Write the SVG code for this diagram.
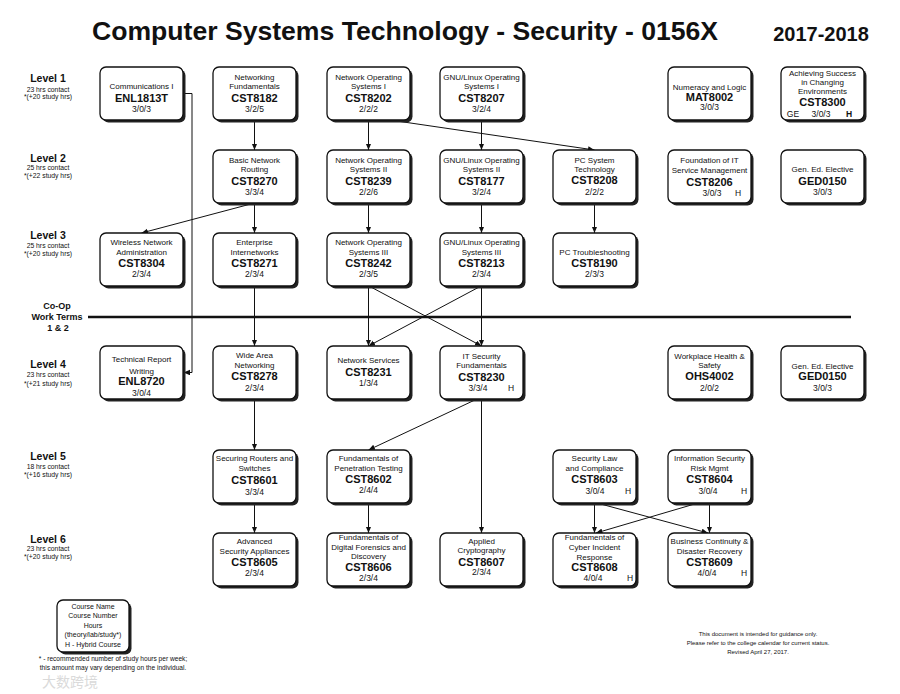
<svg xmlns="http://www.w3.org/2000/svg" width="900" height="694" viewBox="0 0 900 694">
<defs>
<marker id="ah" markerWidth="7" markerHeight="6" refX="6.5" refY="2.75" orient="auto" markerUnits="userSpaceOnUse"><path d="M0,0 L6.5,2.75 L0,5.5 z" fill="#111"/></marker>
</defs>
<style>
text{font-family:"Liberation Sans",Arial,sans-serif;fill:#111;text-anchor:middle}
.sh{fill:#222}
.bx{fill:#fff;stroke:#111;stroke-width:1.3}
.n{font-size:8px}
.c{font-size:11px;font-weight:bold}
.h{font-size:8.5px}
.lv{font-size:10.5px;font-weight:bold}
.ls{font-size:6.8px}
.co{font-size:9px;font-weight:bold}
.ln{fill:none;stroke:#111;stroke-width:1}
.ar{marker-end:url(#ah)}
</style>
<rect width="900" height="694" fill="#fff"/>
<text x="405" y="40" style="font-size:26.6px;font-weight:bold">Computer Systems Technology - Security - 0156X</text>
<text x="821" y="41" style="font-size:20px;font-weight:bold">2017-2018</text>

<g id="levels">
<text class="lv" x="48" y="82">Level 1</text><text class="ls" x="48" y="91.5">23 hrs contact</text><text class="ls" x="48" y="99">*(+20 study hrs)</text>
<text class="lv" x="48" y="162">Level 2</text><text class="ls" x="48" y="169.5">25 hrs contact</text><text class="ls" x="48" y="177.5">*(+22 study hrs)</text>
<text class="lv" x="48" y="239">Level 3</text><text class="ls" x="48" y="247.5">25 hrs contact</text><text class="ls" x="48" y="255.5">*(+20 study hrs)</text>
<text class="lv" x="48" y="368">Level 4</text><text class="ls" x="48" y="376.5">23 hrs contact</text><text class="ls" x="48" y="385.5">*(+21 study hrs)</text>
<text class="lv" x="48" y="460">Level 5</text><text class="ls" x="48" y="468.5">18 hrs contact</text><text class="ls" x="48" y="476.5">*(+16 study hrs)</text>
<text class="lv" x="48" y="543">Level 6</text><text class="ls" x="48" y="550.5">23 hrs contact</text><text class="ls" x="48" y="558.5">*(+20 study hrs)</text>
<text class="co" x="57" y="308.5">Co-Op</text><text class="co" x="57" y="319.5">Work Terms</text><text class="co" x="58" y="330.5">1 &amp; 2</text>
</g>

<g id="connectors">
<line x1="88" y1="317" x2="851" y2="317" stroke="#111" stroke-width="2.5"/>
<path class="ln ar" d="M183,93.5 H192 V372.5 H183.5"/>
<line class="ln ar" x1="254.5" y1="120" x2="254.5" y2="150"/>
<line class="ln ar" x1="254.5" y1="203" x2="141.5" y2="233"/>
<line class="ln ar" x1="254.5" y1="203" x2="254.5" y2="233"/>
<line class="ln ar" x1="254.5" y1="286" x2="254.5" y2="346"/>
<line class="ln ar" x1="254.5" y1="399" x2="254.5" y2="450"/>
<line class="ln ar" x1="254.5" y1="503" x2="254.5" y2="533"/>
<line class="ln ar" x1="368.5" y1="120" x2="368.5" y2="150"/>
<line class="ln ar" x1="390" y1="120" x2="594.5" y2="150"/>
<line class="ln ar" x1="481.5" y1="120" x2="481.5" y2="150"/>
<line class="ln ar" x1="368.5" y1="203" x2="368.5" y2="233"/>
<line class="ln ar" x1="481.5" y1="203" x2="481.5" y2="233"/>
<line class="ln ar" x1="594.5" y1="203" x2="594.5" y2="233"/>
<line class="ln ar" x1="368.5" y1="286" x2="368.5" y2="346"/>
<line class="ln ar" x1="369" y1="286" x2="481.5" y2="346"/>
<line class="ln ar" x1="481.5" y1="286" x2="481.5" y2="346"/>
<line class="ln ar" x1="481" y1="286" x2="368.5" y2="346"/>
<line class="ln ar" x1="477" y1="399" x2="368.5" y2="450"/>
<line class="ln ar" x1="481.5" y1="399" x2="481.5" y2="533"/>
<line class="ln ar" x1="368.5" y1="503" x2="368.5" y2="533"/>
<line class="ln ar" x1="594.5" y1="503" x2="594.5" y2="533"/>
<line class="ln ar" x1="709.5" y1="503" x2="709.5" y2="533"/>
<line class="ln ar" x1="597" y1="503" x2="708" y2="533"/>
<line class="ln ar" x1="698" y1="503" x2="596" y2="533"/>
</g>

<g id="ENL1813T"><rect class="sh" x="102.5" y="69.5" width="83" height="53" rx="6"/><rect class="bx" x="100" y="67" width="83" height="53" rx="6"/>
<text class="n" x="141.5" y="89">Communications I</text><text class="c" x="141.5" y="101.5">ENL1813T</text><text class="h" x="141.5" y="111.5">3/0/3</text></g>
<g id="CST8182"><rect class="sh" x="215.5" y="69.5" width="83" height="53" rx="6"/><rect class="bx" x="213" y="67" width="83" height="53" rx="6"/>
<text class="n" x="254.5" y="79.5">Networking</text><text class="n" x="254.5" y="89">Fundamentals</text><text class="c" x="254.5" y="101.5">CST8182</text><text class="h" x="254.5" y="111.5">3/2/5</text></g>
<g id="CST8202"><rect class="sh" x="329.5" y="69.5" width="83" height="53" rx="6"/><rect class="bx" x="327" y="67" width="83" height="53" rx="6"/>
<text class="n" x="368.5" y="79.5">Network Operating</text><text class="n" x="368.5" y="89">Systems I</text><text class="c" x="368.5" y="101.5">CST8202</text><text class="h" x="368.5" y="111.5">2/2/2</text></g>
<g id="CST8207"><rect class="sh" x="442.5" y="69.5" width="83" height="53" rx="6"/><rect class="bx" x="440" y="67" width="83" height="53" rx="6"/>
<text class="n" x="481.5" y="79.5">GNU/Linux Operating</text><text class="n" x="481.5" y="89">Systems I</text><text class="c" x="481.5" y="101.5">CST8207</text><text class="h" x="481.5" y="111.5">3/2/4</text></g>
<g id="MAT8002"><rect class="sh" x="670.5" y="69.5" width="83" height="53" rx="6"/><rect class="bx" x="668" y="67" width="83" height="53" rx="6"/>
<text class="n" x="709.5" y="90">Numeracy and Logic</text><text class="c" x="709.5" y="101">MAT8002</text><text class="h" x="709.5" y="110">3/0/3</text></g>
<g id="CST8300"><rect class="sh" x="783.5" y="69.5" width="83" height="53" rx="6"/><rect class="bx" x="781" y="67" width="83" height="53" rx="6"/>
<text class="n" x="822.5" y="75.5">Achieving Success</text><text class="n" x="822.5" y="84.5">in Changing</text><text class="n" x="822.5" y="93.5">Environments</text><text class="c" x="822.5" y="105.5">CST8300</text>
<text class="h" x="793" y="116.5">GE</text><text class="h" x="821" y="116.5">3/0/3</text><text class="h" x="849" y="116.5" font-weight="bold">H</text></g>

<g id="CST8270"><rect class="sh" x="215.5" y="152.5" width="83" height="53" rx="6"/><rect class="bx" x="213" y="150" width="83" height="53" rx="6"/>
<text class="n" x="254.5" y="162.5">Basic Network</text><text class="n" x="254.5" y="172">Routing</text><text class="c" x="254.5" y="184.5">CST8270</text><text class="h" x="254.5" y="194.5">3/3/4</text></g>
<g id="CST8239"><rect class="sh" x="329.5" y="152.5" width="83" height="53" rx="6"/><rect class="bx" x="327" y="150" width="83" height="53" rx="6"/>
<text class="n" x="368.5" y="162.5">Network Operating</text><text class="n" x="368.5" y="172">Systems II</text><text class="c" x="368.5" y="185">CST8239</text><text class="h" x="368.5" y="195">2/2/6</text></g>
<g id="CST8177"><rect class="sh" x="442.5" y="152.5" width="83" height="53" rx="6"/><rect class="bx" x="440" y="150" width="83" height="53" rx="6"/>
<text class="n" x="481.5" y="162.5">GNU/Linux Operating</text><text class="n" x="481.5" y="172">Systems II</text><text class="c" x="481.5" y="185">CST8177</text><text class="h" x="481.5" y="195">3/2/4</text></g>
<g id="CST8208"><rect class="sh" x="555.5" y="152.5" width="83" height="53" rx="6"/><rect class="bx" x="553" y="150" width="83" height="53" rx="6"/>
<text class="n" x="594.5" y="162.5">PC System</text><text class="n" x="594.5" y="172">Technology</text><text class="c" x="594.5" y="184">CST8208</text><text class="h" x="594.5" y="195">2/2/2</text></g>
<g id="CST8206"><rect class="sh" x="670.5" y="152.5" width="83" height="53" rx="6"/><rect class="bx" x="668" y="150" width="83" height="53" rx="6"/>
<text class="n" x="709.5" y="162.5">Foundation of IT</text><text class="n" x="709.5" y="173">Service Management</text><text class="c" x="709.5" y="185.5">CST8206</text>
<text class="h" x="712" y="196">3/0/3</text><text class="h" x="738" y="196">H</text></g>
<g id="GED0150a"><rect class="sh" x="783.5" y="152.5" width="83" height="53" rx="6"/><rect class="bx" x="781" y="150" width="83" height="53" rx="6"/>
<text class="n" x="822.5" y="172">Gen. Ed. Elective</text><text class="c" x="822.5" y="185">GED0150</text><text class="h" x="822.5" y="195">3/0/3</text></g>

<g id="CST8304"><rect class="sh" x="102.5" y="235.5" width="83" height="53" rx="6"/><rect class="bx" x="100" y="233" width="83" height="53" rx="6"/>
<text class="n" x="141.5" y="245">Wireless Network</text><text class="n" x="141.5" y="255">Administration</text><text class="c" x="141.5" y="267">CST8304</text><text class="h" x="141.5" y="277">2/3/4</text></g>
<g id="CST8271"><rect class="sh" x="215.5" y="235.5" width="83" height="53" rx="6"/><rect class="bx" x="213" y="233" width="83" height="53" rx="6"/>
<text class="n" x="254.5" y="245">Enterprise</text><text class="n" x="254.5" y="255">Internetworks</text><text class="c" x="254.5" y="267">CST8271</text><text class="h" x="254.5" y="277">2/3/4</text></g>
<g id="CST8242"><rect class="sh" x="329.5" y="235.5" width="83" height="53" rx="6"/><rect class="bx" x="327" y="233" width="83" height="53" rx="6"/>
<text class="n" x="368.5" y="245">Network Operating</text><text class="n" x="368.5" y="255">Systems III</text><text class="c" x="368.5" y="267">CST8242</text><text class="h" x="368.5" y="277">2/3/5</text></g>
<g id="CST8213"><rect class="sh" x="442.5" y="235.5" width="83" height="53" rx="6"/><rect class="bx" x="440" y="233" width="83" height="53" rx="6"/>
<text class="n" x="481.5" y="245">GNU/Linux Operating</text><text class="n" x="481.5" y="255">Systems III</text><text class="c" x="481.5" y="267">CST8213</text><text class="h" x="481.5" y="277">2/3/4</text></g>
<g id="CST8190"><rect class="sh" x="555.5" y="235.5" width="83" height="53" rx="6"/><rect class="bx" x="553" y="233" width="83" height="53" rx="6"/>
<text class="n" x="594.5" y="255">PC Troubleshooting</text><text class="c" x="594.5" y="267">CST8190</text><text class="h" x="594.5" y="277">2/3/3</text></g>

<g id="ENL8720"><rect class="sh" x="102.5" y="348.5" width="83" height="53" rx="6"/><rect class="bx" x="100" y="346" width="83" height="53" rx="6"/>
<text class="n" x="141.5" y="362">Technical Report</text><text class="n" x="141.5" y="374">Writing</text><text class="c" x="141.5" y="385">ENL8720</text><text class="h" x="141.5" y="396">3/0/4</text></g>
<g id="CST8278"><rect class="sh" x="215.5" y="348.5" width="83" height="53" rx="6"/><rect class="bx" x="213" y="346" width="83" height="53" rx="6"/>
<text class="n" x="254.5" y="358">Wide Area</text><text class="n" x="254.5" y="368">Networking</text><text class="c" x="254.5" y="380">CST8278</text><text class="h" x="254.5" y="391">2/3/4</text></g>
<g id="CST8231"><rect class="sh" x="329.5" y="348.5" width="83" height="53" rx="6"/><rect class="bx" x="327" y="346" width="83" height="53" rx="6"/>
<text class="n" x="368.5" y="363">Network Services</text><text class="c" x="368.5" y="376">CST8231</text><text class="h" x="368.5" y="386">1/3/4</text></g>
<g id="CST8230"><rect class="sh" x="442.5" y="348.5" width="83" height="53" rx="6"/><rect class="bx" x="440" y="346" width="83" height="53" rx="6"/>
<text class="n" x="481.5" y="359">IT Security</text><text class="n" x="481.5" y="368">Fundamentals</text><text class="c" x="481.5" y="381">CST8230</text>
<text class="h" x="478" y="391">3/3/4</text><text class="h" x="511" y="391">H</text></g>
<g id="OHS4002"><rect class="sh" x="670.5" y="348.5" width="83" height="53" rx="6"/><rect class="bx" x="668" y="346" width="83" height="53" rx="6"/>
<text class="n" x="709.5" y="359">Workplace Health &amp;</text><text class="n" x="709.5" y="368">Safety</text><text class="c" x="709.5" y="380">OHS4002</text><text class="h" x="709.5" y="391">2/0/2</text></g>
<g id="GED0150b"><rect class="sh" x="783.5" y="348.5" width="83" height="53" rx="6"/><rect class="bx" x="781" y="346" width="83" height="53" rx="6"/>
<text class="n" x="822.5" y="369">Gen. Ed. Elective</text><text class="c" x="822.5" y="380">GED0150</text><text class="h" x="822.5" y="391">3/0/3</text></g>

<g id="CST8601"><rect class="sh" x="215.5" y="452.5" width="83" height="53" rx="6"/><rect class="bx" x="213" y="450" width="83" height="53" rx="6"/>
<text class="n" x="254.5" y="461">Securing Routers and</text><text class="n" x="254.5" y="471">Switches</text><text class="c" x="254.5" y="484">CST8601</text><text class="h" x="254.5" y="495">3/3/4</text></g>
<g id="CST8602"><rect class="sh" x="329.5" y="452.5" width="83" height="53" rx="6"/><rect class="bx" x="327" y="450" width="83" height="53" rx="6"/>
<text class="n" x="368.5" y="461">Fundamentals of</text><text class="n" x="368.5" y="471">Penetration Testing</text><text class="c" x="368.5" y="483">CST8602</text><text class="h" x="368.5" y="493">2/4/4</text></g>
<g id="CST8603"><rect class="sh" x="555.5" y="452.5" width="83" height="53" rx="6"/><rect class="bx" x="553" y="450" width="83" height="53" rx="6"/>
<text class="n" x="594.5" y="461">Security Law</text><text class="n" x="594.5" y="471">and Compliance</text><text class="c" x="594.5" y="483">CST8603</text>
<text class="h" x="595" y="494">3/0/4</text><text class="h" x="628" y="494">H</text></g>
<g id="CST8604"><rect class="sh" x="670.5" y="452.5" width="83" height="53" rx="6"/><rect class="bx" x="668" y="450" width="83" height="53" rx="6"/>
<text class="n" x="709.5" y="461">Information Security</text><text class="n" x="709.5" y="471">Risk Mgmt</text><text class="c" x="709.5" y="483">CST8604</text>
<text class="h" x="708" y="494">3/0/4</text><text class="h" x="744" y="494">H</text></g>

<g id="CST8605"><rect class="sh" x="215.5" y="535.5" width="83" height="53" rx="6"/><rect class="bx" x="213" y="533" width="83" height="53" rx="6"/>
<text class="n" x="254.5" y="544">Advanced</text><text class="n" x="254.5" y="554">Security Appliances</text><text class="c" x="254.5" y="566">CST8605</text><text class="h" x="254.5" y="576">2/3/4</text></g>
<g id="CST8606"><rect class="sh" x="329.5" y="535.5" width="83" height="53" rx="6"/><rect class="bx" x="327" y="533" width="83" height="53" rx="6"/>
<text class="n" x="368.5" y="540">Fundamentals of</text><text class="n" x="368.5" y="549.5">Digital Forensics and</text><text class="n" x="368.5" y="559">Discovery</text><text class="c" x="368.5" y="571">CST8606</text><text class="h" x="368.5" y="580.5">2/3/4</text></g>
<g id="CST8607"><rect class="sh" x="442.5" y="535.5" width="83" height="53" rx="6"/><rect class="bx" x="440" y="533" width="83" height="53" rx="6"/>
<text class="n" x="481.5" y="544">Applied</text><text class="n" x="481.5" y="553">Cryptography</text><text class="c" x="481.5" y="566">CST8607</text><text class="h" x="481.5" y="575">2/3/4</text></g>
<g id="CST8608"><rect class="sh" x="555.5" y="535.5" width="83" height="53" rx="6"/><rect class="bx" x="553" y="533" width="83" height="53" rx="6"/>
<text class="n" x="594.5" y="540">Fundamentals of</text><text class="n" x="594.5" y="550">Cyber Incident</text><text class="n" x="594.5" y="560">Response</text><text class="c" x="594.5" y="571">CST8608</text>
<text class="h" x="593" y="580.5">4/0/4</text><text class="h" x="630" y="580.5">H</text></g>
<g id="CST8609"><rect class="sh" x="670.5" y="535.5" width="83" height="53" rx="6"/><rect class="bx" x="668" y="533" width="83" height="53" rx="6"/>
<text class="n" x="709.5" y="544">Business Continuity &amp;</text><text class="n" x="709.5" y="554">Disaster Recovery</text><text class="c" x="709.5" y="566">CST8609</text>
<text class="h" x="707" y="576">4/0/4</text><text class="h" x="744" y="576">H</text></g>

<g id="legend"><rect class="sh" x="59.5" y="602.5" width="72" height="52" rx="6"/><rect class="bx" x="57" y="600" width="72" height="52" rx="6"/>
<text x="93" y="608.5" style="font-size:7px">Course Name</text><text x="93" y="618" style="font-size:7px">Course Number</text><text x="93" y="627.5" style="font-size:7px">Hours</text><text x="93" y="637" style="font-size:7px">(theory/lab/study*)</text><text x="93" y="646.5" style="font-size:7px">H - Hybrid Course</text>
<text x="113" y="661" style="font-size:6.6px">* - recommended number of study hours per week;</text><text x="113" y="670" style="font-size:6.6px">this amount may vary depending on the individual.</text></g>
<g id="note">
<text x="758" y="636" style="font-size:6px">This document is intended for guidance only.</text>
<text x="758" y="645" style="font-size:6px">Please refer to the college calendar for current status.</text>
<text x="758" y="654" style="font-size:6px">Revised April 27, 2017.</text>
</g>
<text x="42" y="687" style="font-size:14px;fill:#dadada;text-anchor:start;font-family:'Noto Sans CJK SC',sans-serif">大数跨境</text>
</svg>
